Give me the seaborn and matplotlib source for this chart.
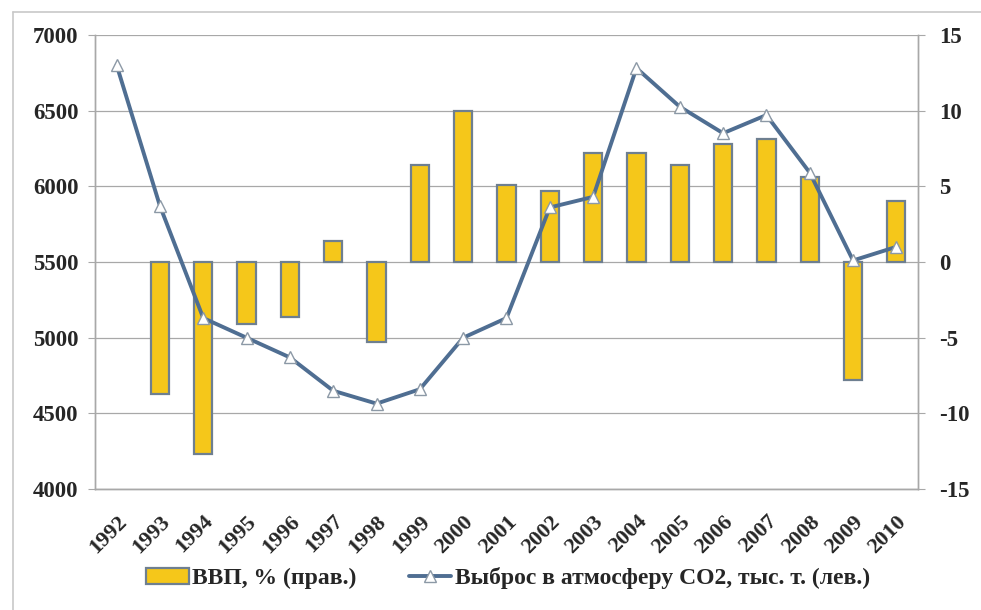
import numpy as np
import pandas as pd
import matplotlib
matplotlib.use("Agg")
import matplotlib.pyplot as plt
import seaborn as sns
from matplotlib.lines import Line2D
from matplotlib.patches import Patch

# данные
years = [str(y) for y in range(1992, 2011)]
gdp = [np.nan, -8.7, -12.7, -4.1, -3.6, 1.4, -5.3, 6.4, 10.0, 5.1,
       4.7, 7.2, 7.2, 6.4, 7.8, 8.1, 5.6, -7.8, 4.0]
co2 = [6800, 5870, 5130, 5000, 4870, 4650, 4565, 4660, 5000, 5130,
       5860, 5930, 6780, 6525, 6350, 6470, 6090, 5510, 5600]
gdp_label = "ВВП, % (прав.)"
co2_label = "Выброс в атмосферу CO2, тыс. т. (лев.)"

sns.set_style("white")
plt.rcParams["font.family"] = ["Liberation Serif", "DejaVu Serif"]
plt.rcParams["font.weight"] = "bold"

bar_fill = "#F5C71A"
bar_edge = "#6E7F90"
line_col = "#4F6E92"
grid_col = "#A8A8A8"

df = pd.DataFrame({"year": years, "gdp": gdp, "co2": co2, "pos": np.arange(len(years))})

fig = plt.figure(figsize=(9.81, 6.10), dpi=100)
ax = fig.add_axes([0.0968, 0.198, 0.839, 0.745])
ax2 = ax.twinx()

# столбики ВВП (правая ось)
sns.barplot(data=df, x="year", y="gdp", order=years, ax=ax2, color=bar_fill,
            width=0.42, edgecolor=bar_edge, linewidth=1.6, saturation=1, errorbar=None)
ax2.set_ylim(-15, 15)
ax2.set_yticks([-15, -10, -5, 0, 5, 10, 15])
ax2.set_yticklabels(["-15", "-10", "-5", "0", "5", "10", "15"])
ax2.yaxis.grid(True, color=grid_col, linewidth=0.9)
ax2.set_axisbelow(True)
ax2.set_ylabel("")
ax2.set_xlabel("")

# линия CO2 (левая ось)
sns.lineplot(data=df, x="pos", y="co2", ax=ax, color=line_col, linewidth=2.8,
             marker="^", markersize=9, markerfacecolor="white",
             markeredgecolor="#8C99A6", markeredgewidth=1.0)
ax.set_ylim(4000, 7000)
ax.set_yticks(range(4000, 7001, 500))
ax.set_xlim(-0.5, len(years) - 0.5)
ax2.set_xlim(-0.5, len(years) - 0.5)
ax.set_zorder(ax2.get_zorder() + 1)
ax.patch.set_visible(False)
ax.set_xlabel("")
ax.set_ylabel("")

ax.set_xticks(np.arange(len(years)))
ax.set_xticklabels(years, rotation=45, ha="right", rotation_mode="anchor")
ax.set_xticks(np.arange(-0.5, len(years)), minor=True)
ax.tick_params(axis="x", which="major", length=0, pad=16, labelsize=16)
ax.tick_params(axis="x", which="minor", length=5, color=grid_col, direction="out")
ax.tick_params(axis="y", length=5, color=grid_col, labelsize=16.5, pad=7)
ax2.tick_params(axis="y", length=5, color=grid_col, labelsize=16.5, pad=10)
ax2.tick_params(axis="x", length=0, labelbottom=False)

for a in (ax, ax2):
    for side in ("left", "right", "bottom"):
        a.spines[side].set_color(grid_col)
        a.spines[side].set_linewidth(1.0)
    a.spines["top"].set_visible(False)

# рамка вокруг
fig.add_artist(Line2D([13 / 981, 13 / 981], [0, 1 - 12 / 610], color="#C8C8C8", linewidth=1.2))
fig.add_artist(Line2D([13 / 981, 1], [1 - 12 / 610, 1 - 12 / 610], color="#C8C8C8", linewidth=1.2))

handles = [Patch(facecolor=bar_fill, edgecolor=bar_edge, linewidth=1.6),
           Line2D([0], [0], color=line_col, linewidth=2.8, marker="^", markersize=9,
                  markerfacecolor="white", markeredgecolor="#8C99A6")]
fig.legend(handles, [gdp_label, co2_label], loc="center", bbox_to_anchor=(0.518, 0.052),
           ncol=2, frameon=False, fontsize=17, handlelength=1.8, handletextpad=0.15,
           columnspacing=2.2)

fig.savefig("out.png", dpi=100)
